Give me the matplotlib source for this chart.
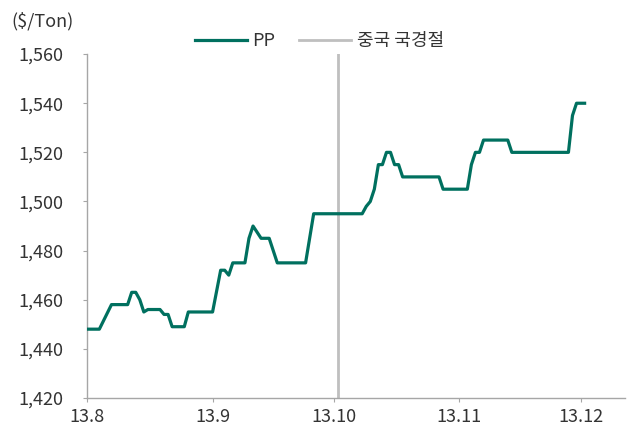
import matplotlib
matplotlib.use("Agg")
import matplotlib.pyplot as plt
import pandas as pd

plt.rcParams['font.family'] = ['Noto Sans CJK KR', 'DejaVu Sans']

# PP 가격 ($/Ton), 2013
dates = ['2013-08-01', '2013-08-04', '2013-08-07', '2013-08-11', '2013-08-12',
         '2013-08-13', '2013-08-14', '2013-08-15', '2013-08-16', '2013-08-19',
         '2013-08-20', '2013-08-21', '2013-08-22', '2013-08-25', '2013-08-26',
         '2013-09-01', '2013-09-03', '2013-09-04', '2013-09-05', '2013-09-06',
         '2013-09-09', '2013-09-10', '2013-09-11', '2013-09-13', '2013-09-15',
         '2013-09-17', '2013-09-24', '2013-09-26', '2013-10-08', '2013-10-09',
         '2013-10-10', '2013-10-11', '2013-10-12', '2013-10-13', '2013-10-14',
         '2013-10-15', '2013-10-16', '2013-10-17', '2013-10-18', '2013-10-27',
         '2013-10-28', '2013-11-03', '2013-11-04', '2013-11-05', '2013-11-06',
         '2013-11-07', '2013-11-13', '2013-11-14', '2013-11-28', '2013-11-29',
         '2013-11-30', '2013-12-02']
pp = [1448, 1448, 1458, 1458, 1463,
      1463, 1460, 1455, 1456, 1456,
      1454, 1454, 1449, 1449, 1455,
      1455, 1472, 1472, 1470, 1475,
      1475, 1485, 1490, 1485, 1485,
      1475, 1475, 1495, 1495, 1498,
      1500, 1505, 1515, 1515, 1520,
      1520, 1515, 1515, 1510, 1510,
      1505, 1505, 1515, 1520, 1520,
      1525, 1525, 1520, 1520, 1535,
      1540, 1540]
holiday = '2013-10-02'
xticks = ['2013-08-01', '2013-09-01', '2013-10-01', '2013-11-01', '2013-12-01']
xlabels = ['13.8', '13.9', '13.10', '13.11', '13.12']

dates = pd.to_datetime(dates)

fig = plt.figure(figsize=(6.32, 4.33), dpi=100)
ax = fig.add_axes([0.138, 0.081, 0.851, 0.794])

ax.plot(dates, pp, color='#00705F', lw=2.3, label='PP', zorder=3)
ax.axvline(pd.Timestamp(holiday), color='#BFBFBF', lw=2, label='중국 국경절', zorder=2)

ax.set_xlim(pd.Timestamp('2013-08-01'), pd.Timestamp('2013-12-12'))
ax.set_ylim(1420, 1560)
ax.set_yticks(range(1420, 1561, 20))
ax.set_yticklabels([f'{v:,}' for v in range(1420, 1561, 20)])
ax.set_xticks(pd.to_datetime(xticks))
ax.set_xticklabels(xlabels)

for s in ['top', 'right']:
    ax.spines[s].set_visible(False)
for s in ['left', 'bottom']:
    ax.spines[s].set_color('#A6A6A6')
    ax.spines[s].set_linewidth(1)
ax.tick_params(axis='y', length=3, labelsize=13, pad=14, colors='#333333')
ax.tick_params(axis='x', length=3, labelsize=13, pad=4, colors='#333333')
ax.tick_params(axis='both', color='#A6A6A6')

fig.text(0.018, 0.952, '($/Ton)', fontsize=13, color='#333333', va='center')
ax.legend(loc='center', bbox_to_anchor=(0.505, 0.905), bbox_transform=fig.transFigure,
          ncol=2, frameon=False, fontsize=13, handlelength=2.9, handletextpad=0.3,
          columnspacing=1.3, labelcolor='#333333')

fig.savefig('out.png', dpi=100)
